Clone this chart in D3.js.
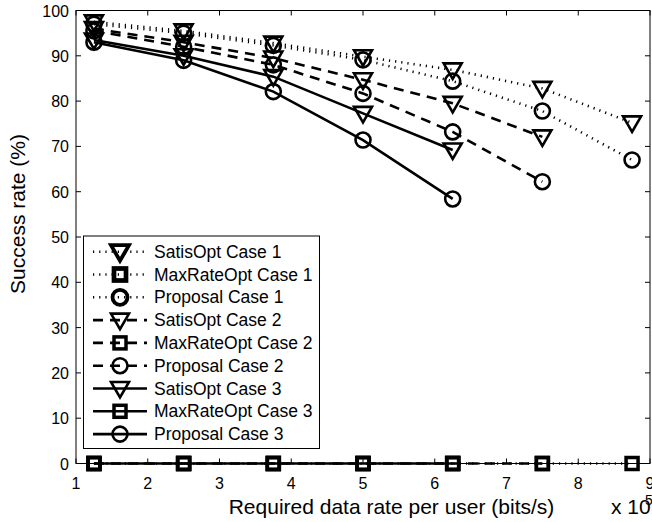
<!DOCTYPE html>
<html>
<head>
<meta charset="utf-8">
<script src="https://cdn.jsdelivr.net/npm/d3@7"></script>
<style>
body { margin:0; background:#fff; }
text { font-family: "Liberation Sans", Arial, sans-serif; fill:#000; }
</style>
</head>
<body>
<div id="chart"></div>
<script>
// data rates (x 10^5 bits/s)
var rates = [1.25, 2.5, 3.75, 5, 6.25, 7.5, 8.75];

var satis1 = [97.5, 95.5, 92.8, 89.8, 86.9, 82.8, 75.2];
var maxrate1 = [0, 0, 0, 0, 0, 0, 0];
var prop1 = [97, 95, 92.3, 89.1, 84.4, 77.8, 67];
var satis2 = [96, 93, 89.5, 84.7, 79.5, 72.1];
var maxrate2 = [0, 0, 0, 0, 0, 0];
var prop2 = [95.5, 92, 88, 81.7, 73.2, 62.2];
var satis3 = [93.5, 90, 85.4, 77.3, 69.2];
var maxrate3 = [0, 0, 0, 0, 0];
var prop3 = [93, 89, 82.1, 71.4, 58.4];

var seriesNames = ["SatisOpt Case 1", "MaxRateOpt Case 1", "Proposal Case 1",
                   "SatisOpt Case 2", "MaxRateOpt Case 2", "Proposal Case 2",
                   "SatisOpt Case 3", "MaxRateOpt Case 3", "Proposal Case 3"];
var xTicks = [1, 2, 3, 4, 5, 6, 7, 8, 9];
var yTicks = [0, 10, 20, 30, 40, 50, 60, 70, 80, 90, 100];

var W = 652, H = 522;
var svg = d3.select("#chart").append("svg")
    .attr("width", W).attr("height", H);

var x = d3.scaleLinear().domain([1, 9]).range([76, 650]);
var y = d3.scaleLinear().domain([0, 100]).range([463.5, 10.5]);

var dashes = { dot: "1.2,5", dash: "10,7", solid: null };
var series = [
    {name: seriesNames[0], vals: satis1, style: "dot", marker: "tri"},
    {name: seriesNames[1], vals: maxrate1, style: "dot", marker: "sq"},
    {name: seriesNames[2], vals: prop1, style: "dot", marker: "circ"},
    {name: seriesNames[3], vals: satis2, style: "dash", marker: "tri"},
    {name: seriesNames[4], vals: maxrate2, style: "dash", marker: "sq"},
    {name: seriesNames[5], vals: prop2, style: "dash", marker: "circ"},
    {name: seriesNames[6], vals: satis3, style: "solid", marker: "tri"},
    {name: seriesNames[7], vals: maxrate3, style: "solid", marker: "sq"},
    {name: seriesNames[8], vals: prop3, style: "solid", marker: "circ"}
];

// frame
svg.append("rect")
    .attr("x", x(1)).attr("y", y(100))
    .attr("width", x(9) - x(1)).attr("height", y(0) - y(100))
    .attr("fill", "#fff").attr("stroke", "#000").attr("stroke-width", 1);

// ticks (inward, all four sides)
var tl = 5;
var ticksG = svg.append("g").attr("stroke", "#000").attr("stroke-width", 1);
xTicks.forEach(function(t) {
    ticksG.append("line").attr("x1", x(t)).attr("x2", x(t)).attr("y1", y(0)).attr("y2", y(0) - tl);
    ticksG.append("line").attr("x1", x(t)).attr("x2", x(t)).attr("y1", y(100)).attr("y2", y(100) + tl);
});
yTicks.forEach(function(t) {
    ticksG.append("line").attr("x1", x(1)).attr("x2", x(1) + tl).attr("y1", y(t)).attr("y2", y(t));
    ticksG.append("line").attr("x1", x(9)).attr("x2", x(9) - tl).attr("y1", y(t)).attr("y2", y(t));
});

svg.selectAll(".xt").data(xTicks).enter().append("text")
    .attr("x", function(d) { return x(d); })
    .attr("y", 488.5)
    .attr("text-anchor", "middle")
    .style("font-size", "16px")
    .text(function(d) { return d; });

svg.selectAll(".yt").data(yTicks).enter().append("text")
    .attr("x", 69)
    .attr("y", function(d) { return y(d) + 6; })
    .attr("text-anchor", "end")
    .style("font-size", "16px")
    .text(function(d) { return d; });

svg.append("text")
    .attr("x", 391.5).attr("y", 514)
    .attr("text-anchor", "middle")
    .style("font-size", "21px")
    .text("Required data rate per user (bits/s)");

svg.append("text")
    .attr("x", 611).attr("y", 514)
    .style("font-size", "21px")
    .text("x 10");
svg.append("text")
    .attr("x", 645).attr("y", 505)
    .style("font-size", "14px")
    .text("5");

svg.append("text")
    .attr("transform", "translate(25,214) rotate(-90)")
    .attr("text-anchor", "middle")
    .style("font-size", "21px")
    .text("Success rate (%)");

function drawMarker(g, type, cx, cy, sw) {
    if (type == "tri") {
        g.append("path")
            .attr("d", "M" + (cx - 9) + "," + (cy - 6.5) + "L" + (cx + 9) + "," + (cy - 6.5) + "L" + cx + "," + (cy + 9) + "Z")
            .attr("fill", "none").attr("stroke", "#000").attr("stroke-width", sw)
            .attr("stroke-linejoin", "miter");
    } else if (type == "sq") {
        g.append("rect")
            .attr("x", cx - 6).attr("y", cy - 6).attr("width", 12).attr("height", 12)
            .attr("fill", "none").attr("stroke", "#000").attr("stroke-width", sw + 0.9);
    } else {
        g.append("circle")
            .attr("cx", cx).attr("cy", cy).attr("r", 7.5)
            .attr("fill", "none").attr("stroke", "#000").attr("stroke-width", sw);
    }
}

var line = d3.line()
    .x(function(d, i) { return x(rates[i]); })
    .y(function(d) { return y(d); });

var plotG = svg.append("g");
series.forEach(function(s) {
    plotG.append("path")
        .attr("d", line(s.vals))
        .attr("fill", "none")
        .attr("stroke", "#000")
        .attr("stroke-width", 2.6)
        .attr("stroke-dasharray", dashes[s.style]);
    s.vals.forEach(function(v, i) {
        drawMarker(plotG, s.marker, x(rates[i]), y(v), 2.6);
    });
});

// legend
var lg = svg.append("g");
lg.append("rect")
    .attr("x", 83.5).attr("y", 236)
    .attr("width", 236).attr("height", 212.5)
    .attr("fill", "#fff").attr("stroke", "#000").attr("stroke-width", 1);

series.forEach(function(s, i) {
    var ly = 251.7 + i * 22.8;
    lg.append("line")
        .attr("x1", 93).attr("x2", 147).attr("y1", ly).attr("y2", ly)
        .attr("stroke", "#000").attr("stroke-width", 2.6)
        .attr("stroke-dasharray", dashes[s.style]);
    drawMarker(lg, s.marker, 120, ly, s.style == "dot" ? 3.8 : 2.6);
    lg.append("text")
        .attr("x", 154).attr("y", ly + 6)
        .style("font-size", "17.5px")
        .text(s.name);
});
</script>
</body>
</html>
